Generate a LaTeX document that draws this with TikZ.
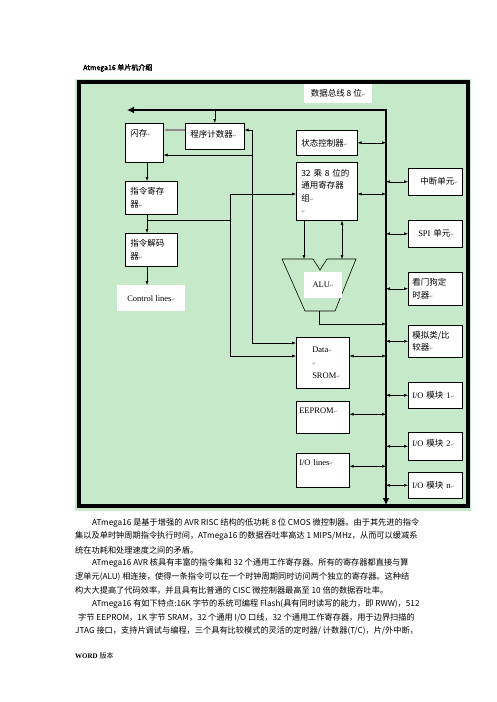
\documentclass[tikz,border=0pt]{standalone}
\usepackage{fontspec}
\setmainfont{Liberation Serif}
\newfontfamily\cjk{Noto Sans CJK SC}
\newfontfamily\cjkbf{Noto Sans CJK SC}[FakeBold=2.5]
\newfontfamily\dejavu{DejaVu Sans}
\usetikzlibrary{arrows.meta}
\definecolor{chip}{RGB}{198, 234, 201}
\newcommand{\pmk}{{\dejavu\fontsize{4.5pt}{5pt}\selectfont\textcolor{black!55}{↵}}}

\begin{document}
\begin{tikzpicture}[x=1pt, y=-1pt,
  box/.style={draw=black, line width=0.5pt, fill=white, anchor=north west, inner xsep=5pt, inner ysep=0pt, align=left, font=\cjk\fontsize{8.5pt}{12.5pt}\selectfont},
  rbox/.style={box, inner xsep=4pt, minimum width=54pt, text width=46pt},
  lbox/.style={box, font=\fontsize{8.5pt}{13pt}\selectfont},
  tag/.style={fill=white, anchor=north west, inner sep=0pt},
  ar/.style={line width=0.5pt, -{Latex[length=4pt, width=3pt]}},
  dar/.style={line width=0.5pt, {Latex[length=4pt, width=3pt]}-{Latex[length=4pt, width=3pt]}},
  bus/.style={line width=2.5pt, {Latex[length=7pt, width=7pt]}-{Latex[length=7pt, width=7pt]}},
  para/.style={anchor=west, inner sep=0pt, font=\cjk\fontsize{8.2pt}{10pt}\selectfont}]
\useasboundingbox (0,0) rectangle (496,702);
\node (title) [anchor=west, inner sep=0pt, font=\cjkbf\fontsize{7pt}{8pt}\selectfont] at (83,68) {Atmega16 单片机介绍};
% chip frame
\fill[chip] (75,79) rectangle (471,511);
\draw[line width=3.5pt, fill=chip] (79,82) rectangle (468,506);
\node (dbus) [tag, minimum width=68pt, minimum height=19pt, font=\cjk\fontsize{8.5pt}{10pt}\selectfont] at (304,84) {数据总线 8 位\pmk};
% left column
\node (flash) [box, minimum width=38pt, minimum height=39pt, text width=28pt, text depth=20pt] at (125,123) {闪存\pmk};
\node (pc) [box, minimum width=59pt, minimum height=26pt, text width=49pt, text depth=5pt] at (185,123) {程序计数器\pmk};
\node (ir) [box, minimum width=52pt, minimum height=33pt, text width=42pt] at (125,181) {指令寄存\\器\pmk};
\node (idec) [box, minimum width=52pt, minimum height=33pt, text width=42pt] at (125,233) {指令解码\\器\pmk};
\node (ctrl) [box, draw=none, minimum width=68pt, minimum height=26pt, font=\fontsize{8.5pt}{10pt}\selectfont] at (117,285) {Control lines\pmk};
% middle column
\node (sc) [box, minimum width=61pt, minimum height=25pt, text width=51pt] at (296,130) {状态控制器\pmk};
\node (reg) [box, minimum width=61pt, minimum height=58pt, text width=51pt] at (296,162) {32 乘 8 位的\\通用寄存器\\组\pmk\\\pmk};
\draw[line width=0.6pt, fill=chip] (282,259) -- (313,259) -- (320,270) -- (327,259) -- (356,259) -- (335,311) -- (305,311) -- cycle;
\node (alu) [tag, minimum width=38pt, minimum height=26pt, font=\fontsize{8.5pt}{10pt}\selectfont] at (304,272) {ALU\pmk};
\node (data) [lbox, minimum width=53pt, minimum height=51pt, text width=43pt, inner xsep=5pt] at (296,337) {\hspace*{11pt}Data\pmk\\\hspace*{11pt}\pmk\\\hspace*{11pt}SROM\pmk};
\node (eep) [lbox, minimum width=53pt, minimum height=32pt, text width=47pt, inner xsep=3pt, text depth=14pt] at (296,401) {EEPROM\pmk};
\node (iol) [lbox, minimum width=53pt, minimum height=34pt, text width=47pt, inner xsep=3pt, text depth=16pt] at (296,453) {I/O lines\pmk};
% right column
\node (irq) [rbox, minimum height=27pt, align=right] at (408,168) {中断单元\pmk};
\node (spi) [rbox, minimum height=27pt] at (408,220) {\hspace*{6pt}{\rmfamily SPI} 单元\pmk};
\node (wdt) [rbox, minimum height=33pt] at (408,272) {看门狗定\\时器\pmk};
\node (acmp) [rbox, minimum height=32pt] at (408,325) {模拟类/比\\较器\pmk};
\node (io1) [rbox, minimum height=26pt] at (408,382) {{\rmfamily I/O} 模块 {\rmfamily 1}\pmk};
\node (io2) [rbox, minimum height=28pt, text depth=6pt] at (408,432) {{\rmfamily I/O} 模块 {\rmfamily 2}\pmk};
\node (ion) [rbox, minimum height=26pt] at (408,472) {{\rmfamily I/O} 模块 {\rmfamily n}\pmk};
% data bus
\coordinate (bw) at (127,110);
\coordinate (bn) at (386,110);
\coordinate (bs) at (386,505);
\draw[bus] (bw) -- (bn) -- (bs);
% program path
\coordinate (pa) at (252,130);
\coordinate (pb) at (252,155);
\coordinate (pd) at (252,343);
\draw[ar] (bn -| pc.north) -- (pc.north);
\draw[ar, draw=black!45, line width=1.2pt] (pc.west |- pa) -- (flash.east |- pa);
\draw[ar] (pa) -- (pa -| pc.east);
\draw[ar] (pb) -- (pb -| flash.east);
\draw[ar] (pa) -- (pd) -- (pd -| data.west);
\coordinate (qa) at (147,220);
\coordinate (qb) at (230,220);
\coordinate (qc) at (230,194);
\coordinate (qd) at (230,356);
\draw[ar] (flash.south -| qa) -- (ir.north -| qa);
\draw[ar] (ir.south -| qa) -- (idec.north -| qa);
\draw[ar] (idec.south -| qa) -- (ctrl.north -| qa);
\draw (qa) -- (qb);
\draw[ar] (qc) -- (qc -| reg.west);
\draw[ar] (qc) -- (qd) -- (qd -| data.west);
% alu
\coordinate (aluin1) at (304,259);
\coordinate (aluin2) at (342,259);
\coordinate (aluout) at (319,311);
\coordinate (alubus) at (319,324);
\draw[ar] (reg.south -| aluin1) -- (aluin1);
\draw[dar] (reg.south -| aluin2) -- (aluin2);
\draw[ar] (aluout) -- (alubus) -- (alubus -| bn);
% bus links
\draw[dar] (sc.east) -- (sc.east -| bn);
\draw[dar] (qc -| reg.east) -- (qc -| bn);
\draw[dar] (qd -| data.east) -- (qd -| bn);
\draw[dar] ([yshift=3pt]eep.east) -- ([yshift=3pt]eep.east -| bn);
\draw[dar] ([yshift=4pt]iol.east) -- ([yshift=4pt]iol.east -| bn);
\foreach \n in {irq, spi, wdt, acmp, io1, io2, ion}
  \draw[dar] (\n.west -| bn) -- (\n.west);
% text below
\node (p1) [para] at (92,523) {ATmega16 是基于增强的 AVR RISC 结构的低功耗 8 位 CMOS 微控制器。由于其先进的指令};
\node (p2) [para] at (75,536.5) {集以及单时钟周期指令执行时间，ATmega16 的数据吞吐率高达 1 MIPS/MHz，从而可以缓减系};
\node (p3) [para] at (75,550) {统在功耗和处理速度之间的矛盾。};
\node (p4) [para] at (92,563.5) {ATmega16 AVR 核具有丰富的指令集和 32 个通用工作寄存器。所有的寄存器都直接与算};
\node (p5) [para] at (75,577) {逻单元(ALU) 相连接，使得一条指令可以在一个时钟周期同时访问两个独立的寄存器。这种结};
\node (p6) [para] at (75,590.5) {构大大提高了代码效率，并且具有比普通的 CISC 微控制器最高至 10 倍的数据吞吐率。};
\node (p7) [para] at (92,604) {ATmega16 有如下特点:16K 字节的系统可编程 Flash(具有同时读写的能力，即 RWW)，512};
\node (p8) [para] at (78,617.5) {字节 EEPROM，1K 字节 SRAM，32 个通用 I/O 口线，32 个通用工作寄存器，用于边界扫描的};
\node (p9) [para] at (75,631) {JTAG 接口，支持片调试与编程，三个具有比较模式的灵活的定时器/ 计数器(T/C)，片/外中断，};
\node (foot) [anchor=west, inner sep=0pt] at (75,656) {\fontsize{7pt}{8pt}\selectfont\textbf{WORD} {\cjk 版本}};
\end{tikzpicture}
\end{document}
